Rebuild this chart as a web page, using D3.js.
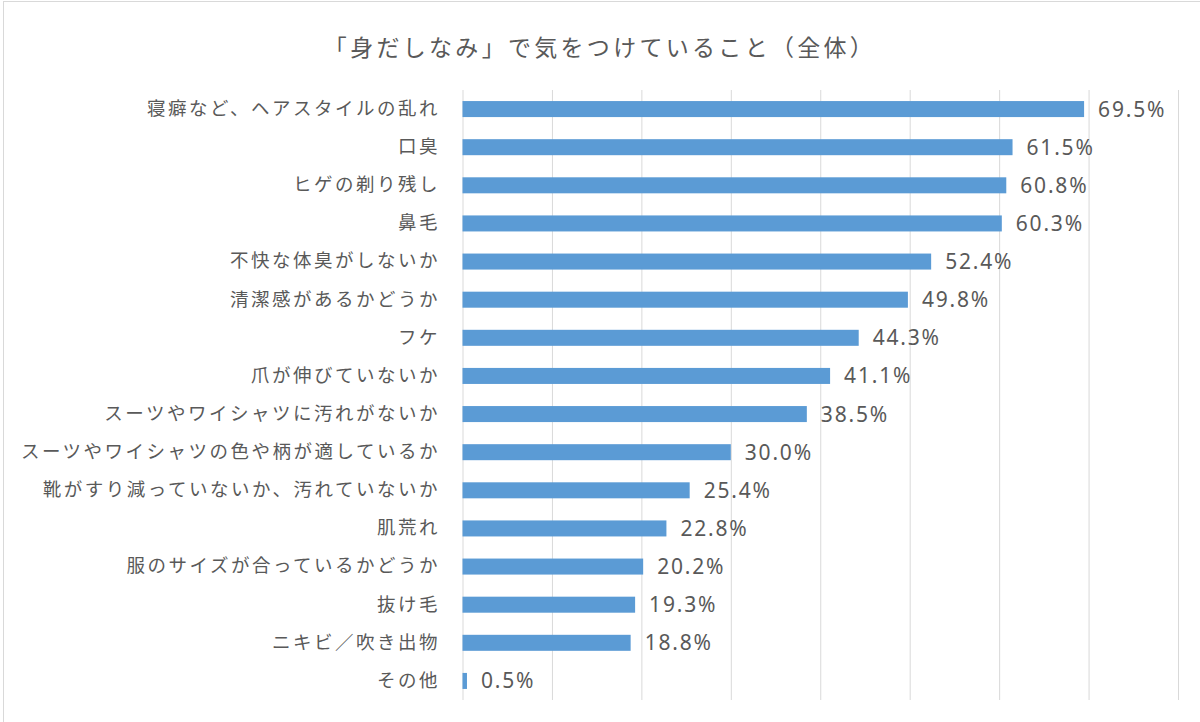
<!DOCTYPE html>
<html>
<head>
<meta charset="utf-8">
<script src="https://cdn.jsdelivr.net/npm/d3@7"></script>
<style>
  body { margin: 0; background: #fff; }
  svg { display: block; }
</style>
</head>
<body>
<svg width="1200" height="722"></svg>
<script>
const chartTitle = "「身だしなみ」で気をつけていること（全体）";
const categories = [
    "寝癖など、ヘアスタイルの乱れ", "口臭", "ヒゲの剃り残し", "鼻毛",
    "不快な体臭がしないか", "清潔感があるかどうか", "フケ", "爪が伸びていないか",
    "スーツやワイシャツに汚れがないか", "スーツやワイシャツの色や柄が適しているか",
    "靴がすり減っていないか、汚れていないか", "肌荒れ", "服のサイズが合っているかどうか",
    "抜け毛", "ニキビ／吹き出物", "その他"
];
const values = [69.5, 61.5, 60.8, 60.3, 52.4, 49.8, 44.3, 41.1, 38.5, 30.0, 25.4, 22.8, 20.2, 19.3, 18.8, 0.5];
const gridTicks = [0, 10, 20, 30, 40, 50, 60, 70, 80];

const svg = d3.select("svg");
const width = +svg.attr("width");
const height = +svg.attr("height");
const textColor = "#595959";
const jpFont = "'Noto Sans CJK JP', 'Noto Sans', sans-serif";

// faint frame of the original image (top and left edges)
svg.append("rect")
    .attr("x", 3.5).attr("y", 1.5)
    .attr("width", width + 10).attr("height", height + 10)
    .attr("fill", "none")
    .attr("stroke", "#d9d9d9");

const x = d3.scaleLinear().domain([0, 80]).range([462.5, 1178]);
const y = d3.scaleBand().domain(categories).range([90, 700])
    .paddingInner(0.58).paddingOuter(0.29);

// vertical gridlines
const grid = svg.append("g")
    .attr("transform", "translate(0,700)")
    .call(d3.axisBottom(x).tickValues(gridTicks).tickSize(-610).tickFormat(""));
grid.select(".domain").remove();
grid.selectAll("line").attr("stroke", "#d9d9d9");

// title
svg.append("text")
    .attr("x", 600)
    .attr("y", 56)
    .attr("text-anchor", "middle")
    .attr("font-family", jpFont)
    .attr("font-size", 23)
    .attr("letter-spacing", 3.3)
    .attr("fill", textColor)
    .text(chartTitle);

// category labels
const yAxis = svg.append("g")
    .attr("transform", "translate(462,0)")
    .call(d3.axisLeft(y).tickSize(0).tickPadding(22));
yAxis.select(".domain").remove();
yAxis.selectAll("text")
    .attr("font-family", jpFont)
    .attr("font-size", 18.5)
    .attr("letter-spacing", 2.5)
    .attr("fill", textColor);

// bars
svg.append("g")
    .selectAll("rect")
    .data(values)
    .join("rect")
    .attr("x", x(0))
    .attr("y", (d, i) => y(categories[i]))
    .attr("width", d => x(d) - x(0))
    .attr("height", y.bandwidth())
    .attr("fill", "#5b9bd5");

// value labels
svg.append("g")
    .selectAll("text")
    .data(values)
    .join("text")
    .attr("x", d => x(d) + 14)
    .attr("y", (d, i) => y(categories[i]) + y.bandwidth() / 2)
    .attr("dy", "0.36em")
    .attr("font-family", "'Noto Sans', sans-serif")
    .attr("font-size", 21)
    .attr("letter-spacing", 1.8)
    .attr("fill", textColor)
    .text(d => d.toFixed(1) + "%");
</script>
</body>
</html>
